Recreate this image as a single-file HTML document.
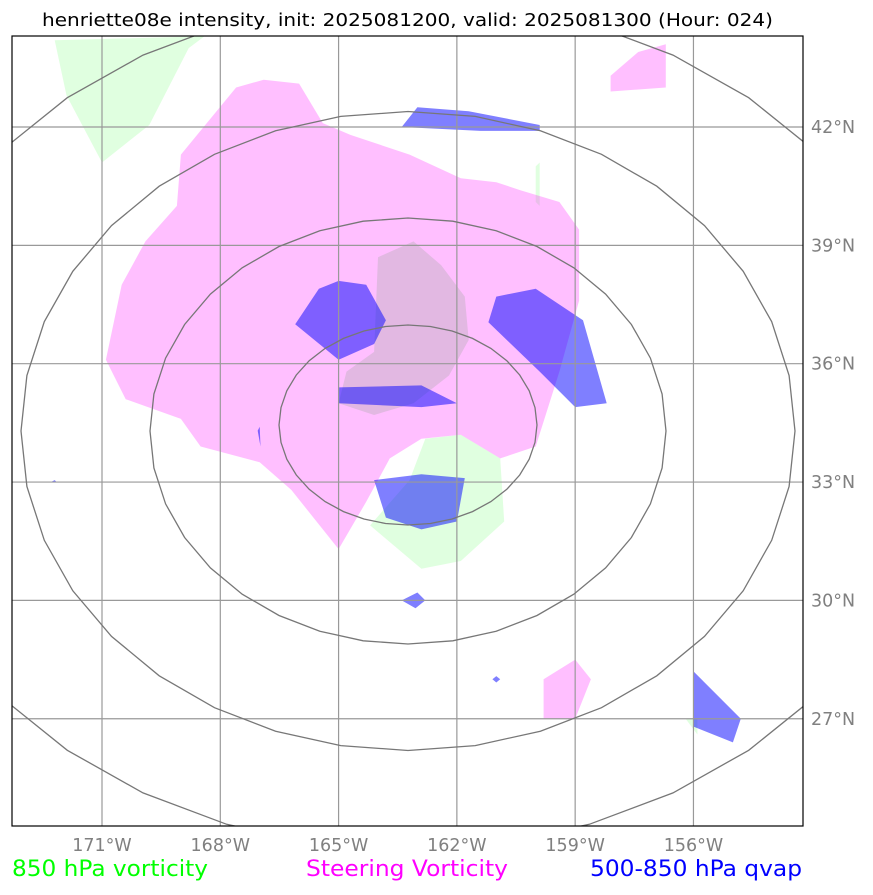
<!DOCTYPE html>
<html><head><meta charset="utf-8">
<style>
body{margin:0;background:#fff;width:873px;height:891px;overflow:hidden;font-family:"DejaVu Sans","Liberation Sans",sans-serif}
</style></head>
<body>
<svg id="chart" width="873" height="891" xmlns="http://www.w3.org/2000/svg">
<defs><clipPath id="clip"><rect x="12" y="36" width="791" height="790"/></clipPath></defs>
<text x="42" y="26" font-size="18" textLength="731" lengthAdjust="spacingAndGlyphs" fill="#000">henriette08e intensity, init: 2025081200, valid: 2025081300 (Hour: 024)</text>
<g id="layers" clip-path="url(#clip)"></g>
<rect x="12" y="36" width="791" height="790" fill="none" stroke="#000" stroke-width="1.2"/>
<g id="ticks"></g>
<text x="12" y="876" font-size="22" textLength="196" lengthAdjust="spacingAndGlyphs" fill="#00ff00">850 hPa vorticity</text>
<text x="306" y="876" font-size="22" textLength="202" lengthAdjust="spacingAndGlyphs" fill="#ff00ff">Steering Vorticity</text>
<text x="590" y="876" font-size="22" textLength="212" lengthAdjust="spacingAndGlyphs" fill="#0000ff">500-850 hPa qvap</text>
</svg>
<script>
const lonTicks=[-171,-168,-165,-162,-159,-156];
const latTicks=[42,39,36,33,30,27];
const greenPolys=[
[[-172.2,44.2],[-168.4,44.3],[-168.8,44.0],[-169.8,42.05],[-171.0,41.1],[-171.9,42.8]],
[[-164.2,31.9],[-163.2,33.05],[-162.8,34.1],[-161.9,34.2],[-160.9,33.6],[-160.8,32.0],[-161.9,31.0],[-162.9,30.8]],
[[-160.0,41.0],[-159.9,41.1],[-159.9,40.0],[-160.0,40.1]],
[[-156.2,27.0],[-155.9,27.0],[-155.9,26.6]]
];
const greenOverPolys=[
[[-164.0,38.7],[-163.1,39.1],[-162.4,38.5],[-161.8,37.7],[-161.7,36.6],[-162.2,35.7],[-163.1,35.0],[-164.1,34.7],[-165.0,35.0],[-164.8,35.8],[-164.1,36.3]]
];
const magentaPolys=[
[[-169.0,41.3],[-167.6,43.0],[-166.9,43.2],[-166.0,43.1],[-165.4,42.1],[-164.7,41.8],[-163.2,41.3],[-161.9,40.7],[-161.0,40.6],[-160.4,40.4],[-159.4,40.1],[-158.9,39.4],[-158.9,37.6],[-159.4,35.8],[-160.0,33.9],[-160.9,33.6],[-161.9,34.2],[-162.9,34.1],[-163.7,33.6],[-164.3,32.5],[-165.0,31.3],[-166.2,32.8],[-167.0,33.5],[-168.5,33.9],[-169.0,34.6],[-170.4,35.1],[-170.9,36.1],[-170.5,38.0],[-169.9,39.1],[-169.1,40.0]],
[[-158.1,43.3],[-157.4,43.9],[-156.7,44.1],[-156.7,43.0],[-158.1,42.9]],
[[-159.8,28.0],[-159.0,28.5],[-158.6,28.0],[-159.0,27.0],[-159.8,27.0]]
];
const bluePolys=[
[[-163.4,42.0],[-163.0,42.5],[-161.7,42.4],[-159.9,42.05],[-159.9,41.9],[-161.4,41.9]],
[[-166.1,37.0],[-165.5,37.9],[-165.0,38.1],[-164.3,38.0],[-163.8,37.1],[-164.1,36.5],[-165.0,36.1]],
[[-165.0,35.4],[-162.9,35.45],[-162.0,35.0],[-162.9,34.9],[-165.0,35.0]],
[[-161.2,37.05],[-161.0,37.7],[-160.0,37.9],[-158.8,37.1],[-158.2,35.0],[-159.0,34.9],[-159.9,35.8]],
[[-164.1,33.05],[-162.9,33.2],[-161.8,33.1],[-162.0,32.0],[-162.9,31.8],[-163.8,32.1]],
[[-163.4,30.0],[-163.0,30.2],[-162.8,30.0],[-163.05,29.8]],
[[-156.0,28.2],[-154.8,27.0],[-155.0,26.4],[-156.0,26.8]],
[[-161.1,28.0],[-161.0,28.08],[-160.9,28.0],[-161.0,27.92]],
[[-167.05,34.3],[-167.0,34.4],[-166.98,33.9]],
[[-172.3,33.0],[-172.2,33.05],[-172.15,33.0]]
];
const ringRadii=[1,2,3,4];
const NS='http://www.w3.org/2000/svg';
function xs(lon){return 102+(lon+171)*39.43;}
function ys(lat){return 127+(42-lat)*39.45;}
const layers=document.getElementById('layers');
function mk(tag,attrs,parent){const e=document.createElementNS(NS,tag);for(const k in attrs)e.setAttribute(k,attrs[k]);parent.appendChild(e);return e;}
function drawPolys(polys,fill,name){
 polys.forEach(p=>{
  const e=mk('polygon',{points:p.map(q=>xs(q[0]).toFixed(1)+','+ys(q[1]).toFixed(1)).join(' '),fill:fill},layers);
  
  
 });
}
drawPolys(greenPolys,'rgba(100,255,100,0.2)','vorticity-850-area');
drawPolys(magentaPolys,'rgba(255,0,255,0.25)','steering-vorticity-area');
drawPolys(greenOverPolys,'rgba(60,150,60,0.15)','vorticity-850-area');
drawPolys(bluePolys,'rgba(0,0,255,0.5)','qvap-area');
lonTicks.forEach(l=>{
 const g=mk('line',{x1:xs(l),x2:xs(l),y1:36,y2:826,stroke:'#999',"stroke-width":1.2},layers);
 
 
 const t=mk('text',{x:xs(l),y:851,"font-size":17.5,fill:'#808080',"text-anchor":'middle'},document.getElementById('ticks'));
 t.textContent=Math.abs(l)+'°W';
 
 
});
latTicks.forEach(l=>{
 const g=mk('line',{x1:12,x2:803,y1:ys(l),y2:ys(l),stroke:'#999',"stroke-width":1.2},layers);
 
 
 const t=mk('text',{x:811,y:ys(l)+6,"font-size":17.5,fill:'#808080'},document.getElementById('ticks'));
 t.textContent=l+'°N';
 
 
});
ringRadii.forEach(r=>{
 const cx=408, cy=r===1?425:(r===4?424:431), rx=129*r+(r===4?14:0), ry=r===1?100:106.5*r;
 const pts=[];for(let i=0;i<36;i++){const a=i*Math.PI/18;pts.push((cx+rx*Math.sin(a)).toFixed(1)+','+(cy-ry*Math.cos(a)).toFixed(1));}
 const e=mk('polygon',{points:pts.join(' '),fill:'none',stroke:'#777',"stroke-width":1.3},layers);
 
 
});
</script>
</body></html>
